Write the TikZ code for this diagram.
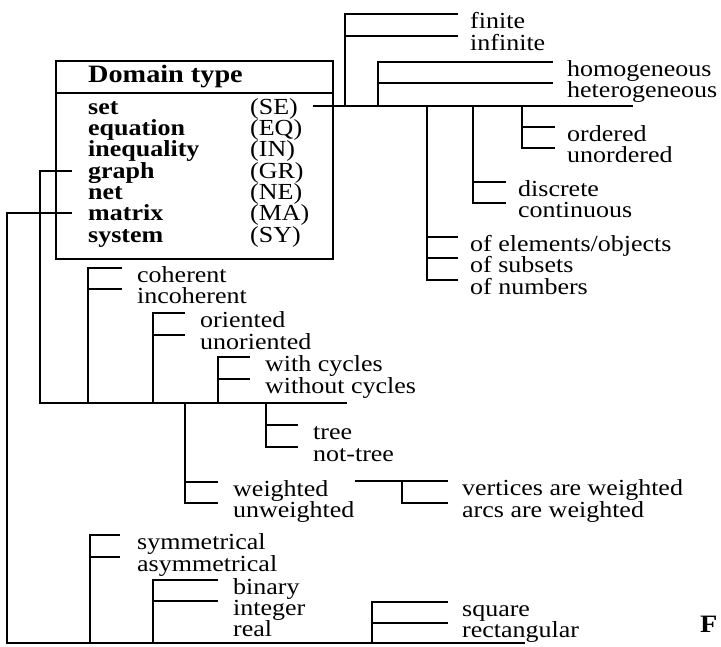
\documentclass[tikz,border=0pt]{standalone}
\usepackage{fontspec}
\setmainfont{Liberation Serif}[FakeStretch=1.13]
\begin{document}
\begin{tikzpicture}[x=1pt,y=-1pt,
  conn/.style={line width=2.2pt},
  lbl/.style={anchor=north west, inner sep=0pt, text height=14pt, text depth=0pt, font=\fontsize{23}{21}\selectfont},
  boxitem/.style={anchor=base west, inner sep=0pt, text height=15pt, text depth=0pt, font=\fontsize{23}{21}\selectfont\bfseries},
  boxabbr/.style={anchor=base west, inner sep=0pt, text height=15pt, text depth=0pt, font=\fontsize{23}{21}\selectfont},
  gap/.style={xshift=-12pt}
]
\useasboundingbox (0,0) rectangle (721,647);

% ---------- box ----------
\node[draw, line width=2.2pt, anchor=north west, minimum width=277pt, minimum height=198pt, inner sep=0pt] (box) at (55,60) {};
\coordinate (hdrL) at (55,93);
\coordinate (hdrR) at (332,93);
\draw[conn] (hdrL) -- (hdrR);
\node[boxitem, font=\fontsize{25}{21}\selectfont\bfseries] (title) at (88,83) {Domain type};
\node[boxitem] (set) at (88,115) {set};
\node[boxitem] (equation) at (88,136) {equation};
\node[boxitem] (inequality) at (88,157) {inequality};
\node[boxitem] (graph) at (88,179) {graph};
\node[boxitem] (net) at (88,200) {net};
\node[boxitem] (matrix) at (88,221) {matrix};
\node[boxitem] (system) at (88,243) {system};
\node[boxabbr] (SE) at (250,115) {(SE)};
\node[boxabbr] (EQ) at (250,136) {(EQ)};
\node[boxabbr] (IN) at (250,157) {(IN)};
\node[boxabbr] (GR) at (250,179) {(GR)};
\node[boxabbr] (NE) at (250,200) {(NE)};
\node[boxabbr] (MA) at (250,221) {(MA)};
\node[boxabbr] (SY) at (250,243) {(SY)};

% ---------- set tree ----------
\coordinate (setL) at (313,106);
\coordinate (setR) at (633,106);
\draw[conn] (setL) -- (setR);
\node[lbl] (finite) at (470,14) {finite};
\node[lbl] (infinite) at (470,36) {infinite};
\node[lbl] (homog) at (567,62) {homogeneous};
\node[lbl] (heterog) at (567,83) {heterogeneous};
\node[lbl] (ordered) at (567,127) {ordered};
\node[lbl] (unordered) at (567,148) {unordered};
\node[lbl] (discrete) at (518,182) {discrete};
\node[lbl] (continuous) at (518,203) {continuous};
\node[lbl] (elements) at (470,237) {of elements/objects};
\node[lbl] (subsets) at (470,258) {of subsets};
\node[lbl] (numbers) at (470,280) {of numbers};
\coordinate (jA) at (345,106);
\coordinate (jB) at (378,106);
\coordinate (jC) at (522,106);
\coordinate (jD) at (473,106);
\coordinate (jE) at (427,106);
\draw[conn] (jA) |- ([gap]finite.north west);
\draw[conn] (jA) |- ([gap]infinite.north west);
\draw[conn] (jB) |- ([xshift=-14pt]homog.north west);
\draw[conn] (jB) |- ([xshift=-14pt]heterog.north west);
\draw[conn] (jC) |- ([gap]ordered.north west);
\draw[conn] (jC) |- ([gap]unordered.north west);
\draw[conn] (jD) |- ([gap]discrete.north west);
\draw[conn] (jD) |- ([gap]continuous.north west);
\draw[conn] (jE) |- ([gap]elements.north west);
\draw[conn] (jE) |- ([gap]subsets.north west);
\draw[conn] (jE) |- ([gap]numbers.north west);

% ---------- graph tree ----------
\coordinate (grS) at (72,171);
\coordinate (grK) at (40,171);
\coordinate (grL) at (40,403);
\coordinate (grR) at (347,403);
\draw[conn] (grS) -- (grK) -- (grL) -- (grR);
\node[lbl] (coherent) at (137,268) {coherent};
\node[lbl] (incoherent) at (137,289) {incoherent};
\node[lbl] (oriented) at (200,313) {oriented};
\node[lbl] (unoriented) at (200,335) {unoriented};
\node[lbl] (withc) at (265,357) {with cycles};
\node[lbl] (withoutc) at (265,379) {without cycles};
\node[lbl] (tree) at (313,425) {tree};
\node[lbl] (nottree) at (313,447) {not-tree};
\node[lbl] (weighted) at (233,482) {weighted};
\node[lbl] (unweighted) at (233,503) {unweighted};
\node[lbl] (vertw) at (462,481) {vertices are weighted};
\node[lbl] (arcsw) at (462,503) {arcs are weighted};
\coordinate (gA) at (88,403);
\coordinate (gB) at (153,403);
\coordinate (gC) at (218,403);
\coordinate (gD) at (266,403);
\coordinate (gE) at (185,403);
\draw[conn] (gA) |- ([xshift=-15pt]coherent.north west);
\draw[conn] (gA) |- ([xshift=-15pt]incoherent.north west);
\draw[conn] (gB) |- ([xshift=-15pt]oriented.north west);
\draw[conn] (gB) |- ([xshift=-15pt]unoriented.north west);
\draw[conn] (gC) |- ([xshift=-15pt]withc.north west);
\draw[conn] (gC) |- ([xshift=-15pt]withoutc.north west);
\draw[conn] (gD) |- ([xshift=-15pt]tree.north west);
\draw[conn] (gD) |- ([xshift=-15pt]nottree.north west);
\draw[conn] (gE) |- ([xshift=-15pt]weighted.north west);
\draw[conn] (gE) |- ([xshift=-15pt]unweighted.north west);
\coordinate (wS) at (355,481);
\coordinate (wJ) at (402,481);
\draw[conn] (wS) -- ([xshift=-14pt]vertw.north west);
\draw[conn] (wJ) |- ([xshift=-14pt]arcsw.north west);

% ---------- matrix tree ----------
\coordinate (mxS) at (72,213);
\coordinate (mxK) at (7,213);
\coordinate (mxL) at (7,643);
\coordinate (mxR) at (525,643);
\draw[conn] (mxS) -- (mxK) -- (mxL) -- (mxR);
\node[lbl] (symm) at (137,535) {symmetrical};
\node[lbl] (asymm) at (137,557) {asymmetrical};
\node[lbl] (binary) at (233,580) {binary};
\node[lbl] (integer) at (233,601) {integer};
\node[lbl] (real) at (233,622) {real};
\node[lbl] (square) at (462,602) {square};
\node[lbl] (rect) at (462,623) {rectangular};
\coordinate (mA) at (90,643);
\coordinate (mB) at (153,643);
\coordinate (mC) at (372,643);
\draw[conn] (mA) |- ([xshift=-17pt]symm.north west);
\draw[conn] (mA) |- ([xshift=-17pt]asymm.north west);
\draw[conn] (mB) |- ([xshift=-15pt]binary.north west);
\draw[conn] (mB) |- ([xshift=-15pt]integer.north west);
\draw[conn] (mC) |- ([xshift=-14pt]square.north west);
\draw[conn] (mC) |- ([xshift=-14pt]rect.north west);

\node[lbl, font=\fontsize{25}{21}\selectfont\bfseries] (figF) at (700,618) {F};
\end{tikzpicture}
\end{document}
